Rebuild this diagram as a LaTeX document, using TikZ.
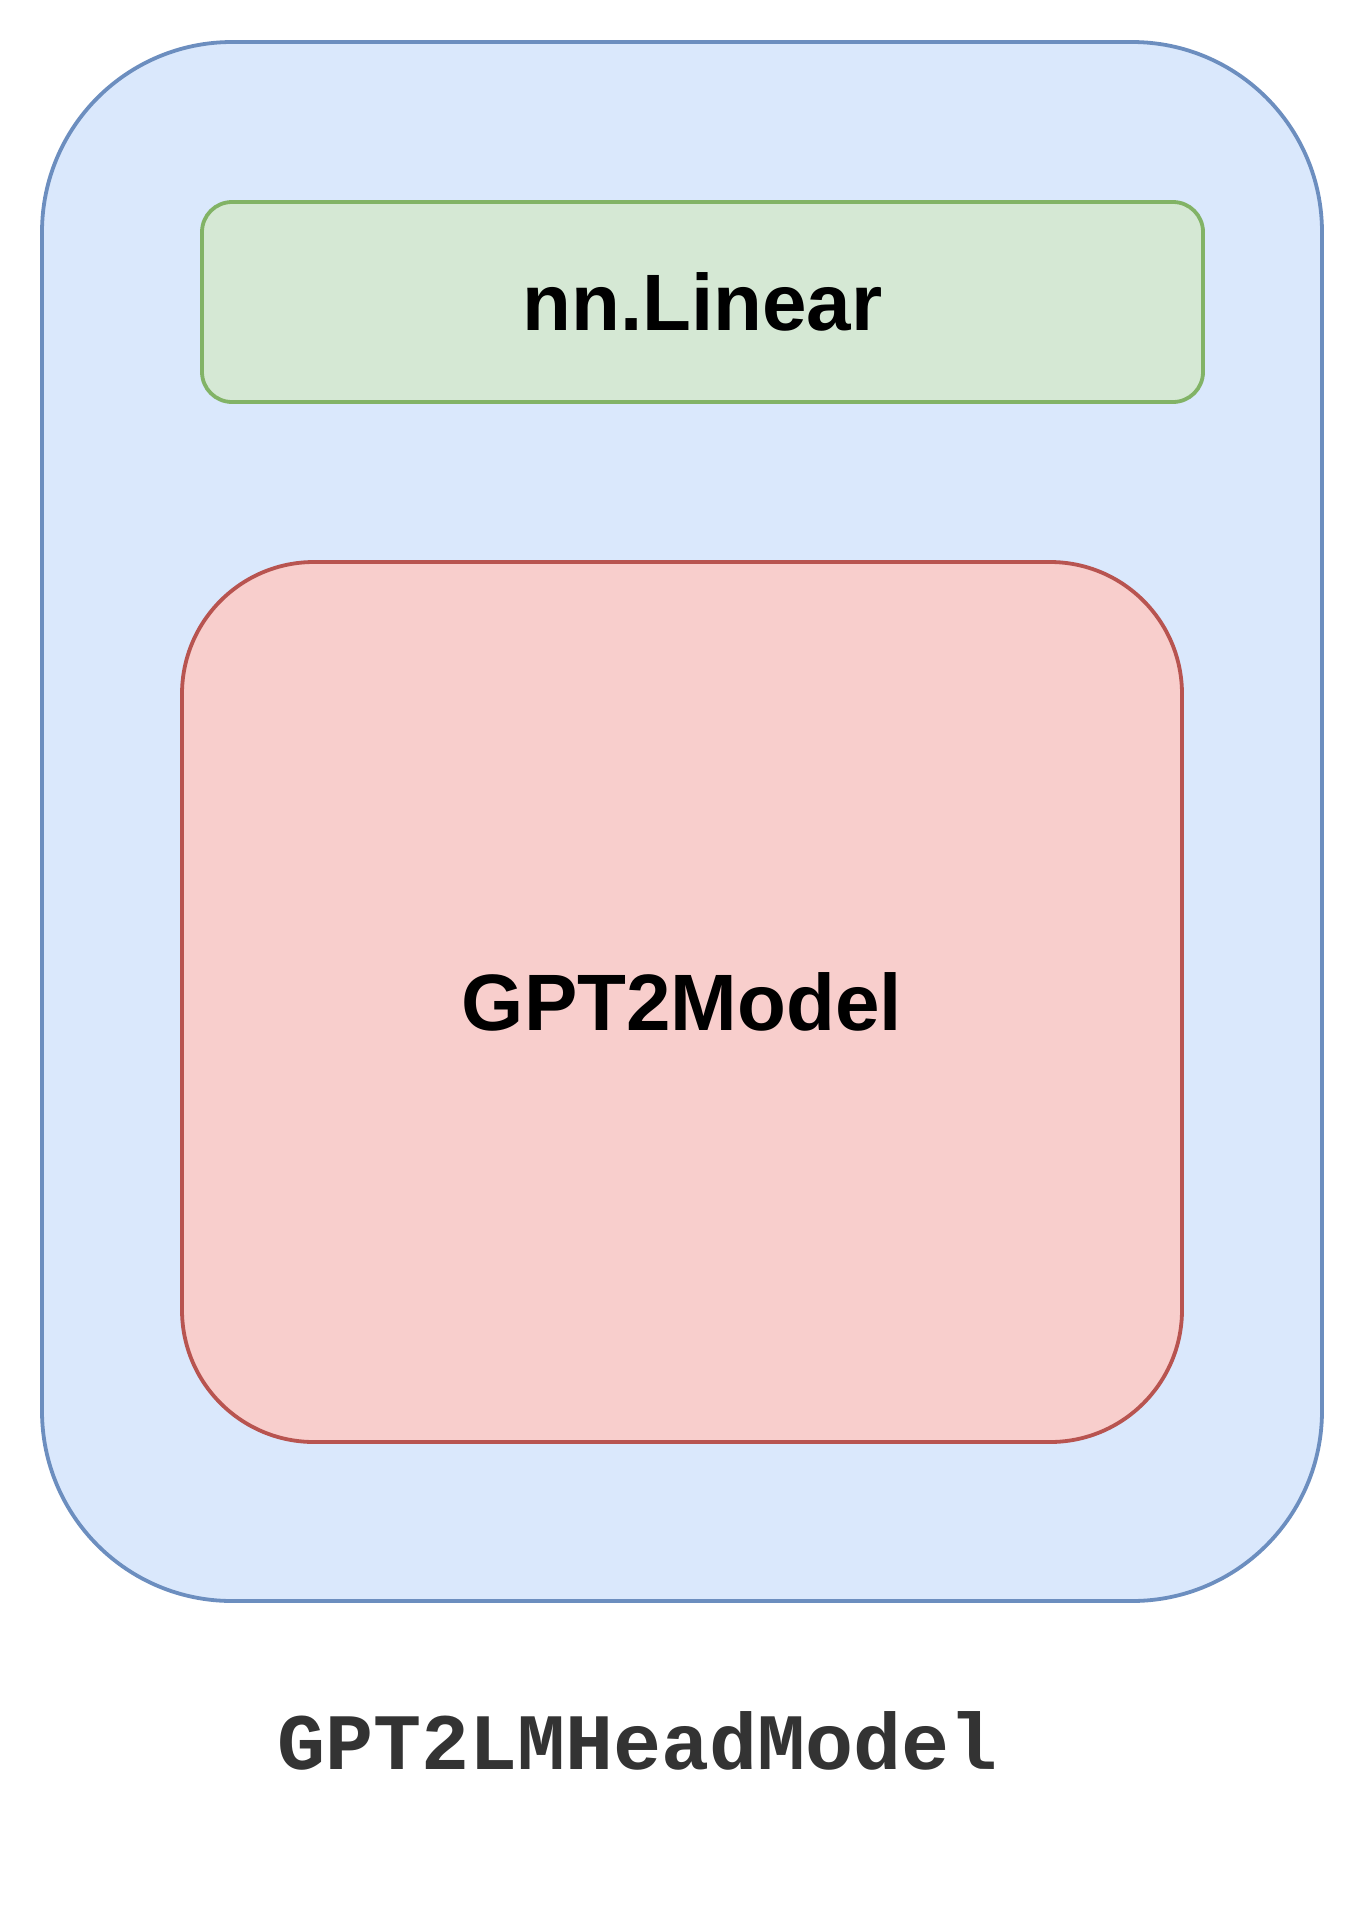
\documentclass[tikz,border=0pt]{standalone}
\usepackage{fontspec}
\setmainfont{Liberation Sans}
\newfontfamily\codefont{Liberation Mono}
\definecolor{outerfill}{HTML}{DAE8FC}
\definecolor{outerdraw}{HTML}{6C8EBF}
\definecolor{greenfill}{HTML}{D5E8D4}
\definecolor{greendraw}{HTML}{82B366}
\definecolor{redfill}{HTML}{F8CECC}
\definecolor{reddraw}{HTML}{B85450}
\definecolor{captiongray}{HTML}{333333}
\tikzset{
  boxbase/.style={inner sep=0pt, outer sep=0pt, line width=3.8pt, font=\fontsize{80}{96}\selectfont\bfseries},
  outerbox/.style={boxbase, fill=outerfill, draw=outerdraw, rounded corners=190pt, minimum width=1280pt, minimum height=1559pt},
  linearbox/.style={boxbase, fill=greenfill, draw=greendraw, rounded corners=30pt, minimum width=1001pt, minimum height=200pt},
  modelbox/.style={boxbase, fill=redfill, draw=reddraw, rounded corners=132pt, minimum width=1000pt, minimum height=880pt},
  captiontext/.style={inner sep=0pt, outer sep=0pt, text=captiongray, font=\fontsize{80}{96}\selectfont\codefont\bfseries}
}
\begin{document}
\begin{tikzpicture}[x=1pt, y=-1pt]
  \useasboundingbox (0,0) rectangle (1364,1912);
  \node[outerbox] (outer) at (682,821.5) {};
  \node[linearbox] (linear) at (702.5,302) {nn.Linear};
  \node[modelbox] (model) at (682,1002) {GPT2Model};
  \node[captiontext] (caption) at (638,1740.5) {GPT2LMHeadModel};
\end{tikzpicture}
\end{document}
